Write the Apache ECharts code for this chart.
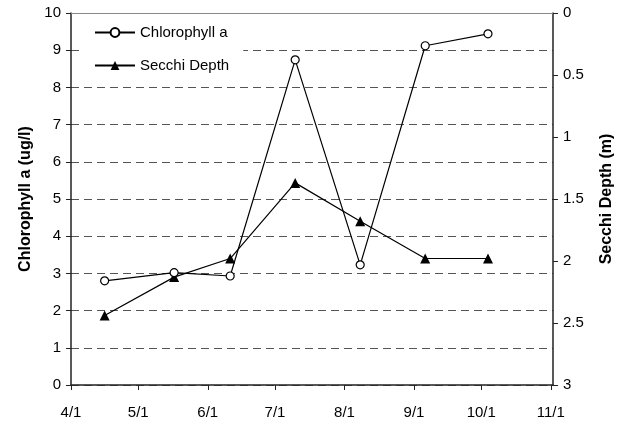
<!DOCTYPE html>
<html>
<head>
<meta charset="utf-8">
<script src="https://cdn.jsdelivr.net/npm/echarts@6/dist/echarts.min.js"></script>
<style>html,body{margin:0;padding:0;background:#fff;}#c{width:624px;height:423px;}</style>
</head>
<body>
<div id="c"></div>
<script>
// Sampling dates
var dates = ['2007-04-16', '2007-05-17', '2007-06-11', '2007-07-10', '2007-08-08', '2007-09-06', '2007-10-04'];
// Chlorophyll a (ug/l)
var chlorophyll = [2.80, 3.02, 2.93, 8.74, 3.23, 9.12, 9.44];
// Secchi depth (m)
var secchi = [2.44, 2.13, 1.98, 1.37, 1.68, 1.98, 1.98];
// X tick labels (month starts)
var xTicks = ['2007-04-01', '2007-05-01', '2007-06-01', '2007-07-01', '2007-08-01', '2007-09-01', '2007-10-01', '2007-11-01'];
var xMin = '2007-04-01', xMax = '2007-11-02';

function ts(s) { var p = s.split('-'); return new Date(+p[0], +p[1] - 1, +p[2]).getTime(); }
var tickVals = xTicks.map(ts);
var font = 'Liberation Sans, Arial, sans-serif';

var chart = echarts.init(document.getElementById('c'), null, {renderer: 'canvas'});
chart.setOption({
  animation: false,
  backgroundColor: '#fff',
  grid: {left: 71, right: 71, top: 13, bottom: 38},
  legend: {
    orient: 'vertical', left: 84, top: 19,
    padding: [6, 14, 6, 10],
    backgroundColor: '#fff',
    itemWidth: 40, itemHeight: 11, itemGap: 18,
    textStyle: {fontFamily: font, fontSize: 15, color: '#000'},
    data: ['Chlorophyll a', 'Secchi Depth']
  },
  xAxis: [{
    type: 'value', min: ts(xMin), max: ts(xMax),
    axisLine: {lineStyle: {color: '#222', width: 1.5}},
    axisTick: {show: true, length: 5, customValues: tickVals, lineStyle: {color: '#222'}},
    axisLabel: {
      customValues: tickVals, color: '#000', fontFamily: font, fontSize: 15, margin: 20,
      showMinLabel: true, showMaxLabel: true,
      formatter: function (v) { var d = new Date(v); return (d.getMonth() + 1) + '/' + d.getDate(); }
    },
    splitLine: {show: false}
  }, {
    type: 'value', position: 'top', min: ts(xMin), max: ts(xMax),
    axisLine: {show: true, lineStyle: {color: '#888', width: 1}},
    axisTick: {show: false}, axisLabel: {show: false}, splitLine: {show: false}
  }],
  yAxis: [{
    type: 'value', min: 0, max: 10, interval: 1,
    name: 'Chlorophyll a (ug/l)', nameLocation: 'middle', nameGap: 35, nameRotate: 90,
    nameTextStyle: {fontFamily: font, fontSize: 16, fontWeight: 'bold', color: '#000'},
    axisLine: {show: true, lineStyle: {color: '#222', width: 1.5}},
    axisTick: {show: true, length: 5, lineStyle: {color: '#222'}},
    axisLabel: {color: '#000', fontFamily: font, fontSize: 15, margin: 10},
    splitLine: {show: true, lineStyle: {color: '#555', type: [8, 5], width: 1}}
  }, {
    type: 'value', min: 0, max: 3, interval: 0.5, inverse: true, position: 'right',
    name: 'Secchi Depth (m)', nameLocation: 'middle', nameGap: 46, nameRotate: 90,
    nameTextStyle: {fontFamily: font, fontSize: 16, fontWeight: 'bold', color: '#000'},
    axisLine: {show: true, lineStyle: {color: '#222', width: 1.5}},
    axisTick: {show: true, length: 5, lineStyle: {color: '#222'}},
    axisLabel: {color: '#000', fontFamily: font, fontSize: 15, margin: 10},
    splitLine: {show: false}
  }],
  series: [{
    name: 'Chlorophyll a', type: 'line', yAxisIndex: 0,
    data: dates.map(function (d, i) { return [ts(d), chlorophyll[i]]; }),
    symbol: 'circle', symbolSize: 8, showAllSymbol: true,
    lineStyle: {color: '#000', width: 1.2},
    itemStyle: {color: '#fff', borderColor: '#000', borderWidth: 1.2},
    z: 3
  }, {
    name: 'Secchi Depth', type: 'line', yAxisIndex: 1,
    data: dates.map(function (d, i) { return [ts(d), secchi[i]]; }),
    symbol: 'triangle', symbolSize: 10, showAllSymbol: true,
    lineStyle: {color: '#000', width: 1.2},
    itemStyle: {color: '#000', borderColor: '#000', borderWidth: 0},
    z: 2
  }]
});
</script>
</body>
</html>
